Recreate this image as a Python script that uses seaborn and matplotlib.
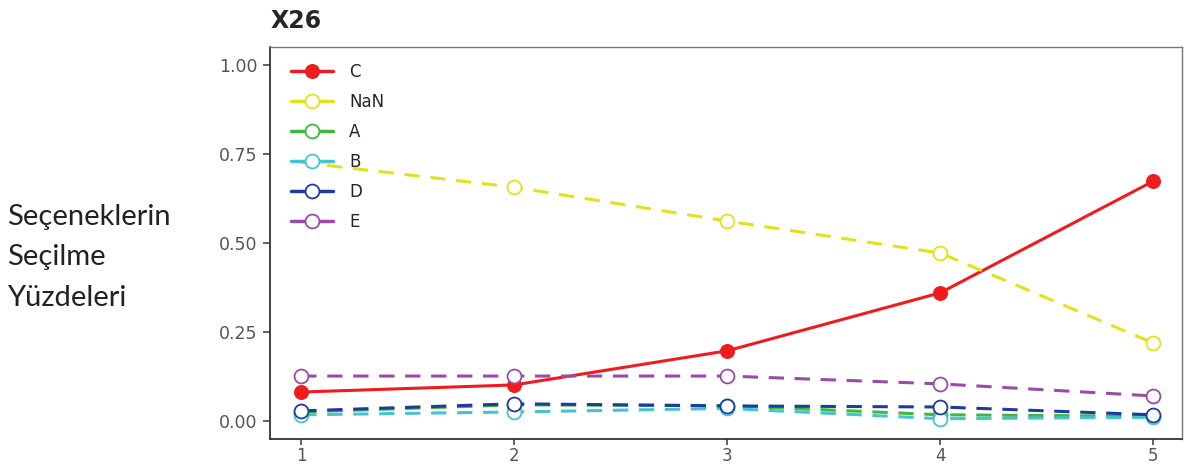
import pandas as pd
import seaborn as sns
import matplotlib.pyplot as plt

# 题目序号 (1-5 组)
groups = [1, 2, 3, 4, 5]

# 各选项的选择比例
c_vals = [0.081, 0.101, 0.197, 0.360, 0.674]
nan_vals = [0.727, 0.657, 0.562, 0.472, 0.219]
a_vals = [0.025, 0.045, 0.043, 0.017, 0.013]
b_vals = [0.017, 0.025, 0.035, 0.006, 0.010]
d_vals = [0.028, 0.048, 0.042, 0.039, 0.017]
e_vals = [0.126, 0.126, 0.126, 0.104, 0.070]

options = ["C", "NaN", "A", "B", "D", "E"]
series = [c_vals, nan_vals, a_vals, b_vals, d_vals, e_vals]
colors = ["#ee1c1c", "#e6e01a", "#3fb83f", "#45c3cf", "#1f3c9c", "#9b4aa8"]

rows = []
for opt, vals in zip(options, series):
    for g, v in zip(groups, vals):
        rows.append({"grup": g, "oran": v, "secenek": opt})
df = pd.DataFrame(rows)

sns.set_style("ticks")
plt.rcParams['font.family'] = ['DejaVu Sans']

fig = plt.figure(figsize=(11.85, 4.67), dpi=100)
ax = fig.add_axes([0.228, 0.060, 0.7696, 0.839])

for opt, col in zip(options, colors):
    sub = df[df["secenek"] == opt]
    if opt == "C":
        sns.lineplot(data=sub, x="grup", y="oran", ax=ax, color=col, label=opt,
                     marker="o", markersize=10, linewidth=2.2,
                     markerfacecolor=col, markeredgecolor=col)
    else:
        # 第一组的 NaN 点被图例遮挡，不画标记
        every = [1, 2, 3, 4] if opt == "NaN" else None
        sns.lineplot(data=sub, x="grup", y="oran", ax=ax, color=col, label=opt,
                     marker="o", markersize=10, linewidth=2.2, dashes=(5, 3.5),
                     markerfacecolor="white", markeredgecolor=col,
                     markeredgewidth=1.3, markevery=every)

ax.set_xlim(0.854, 5.136)
ax.set_ylim(-0.051, 1.051)
ax.set_xticks(groups)
ax.set_yticks([0.0, 0.25, 0.5, 0.75, 1.0])
ax.set_yticklabels(["0.00", "0.25", "0.50", "0.75", "1.00"])
ax.tick_params(labelsize=12.5, colors="#555555", length=5, width=1.3, pad=4)
ax.tick_params(axis="x", labelsize=12, length=4, pad=1.5)
ax.set_xlabel("")
ax.set_ylabel("")
for side in ["left", "bottom"]:
    ax.spines[side].set_color("#333333")
    ax.spines[side].set_linewidth(1.3)
for side in ["top", "right"]:
    ax.spines[side].set_color("#777777")
    ax.spines[side].set_linewidth(1.0)

leg = ax.legend(loc="upper left", frameon=False,
                fontsize=12, handlelength=2.5, labelspacing=0.72,
                handletextpad=1.0, borderaxespad=0.55,
                bbox_to_anchor=(0.0055, 1.0))
for line in leg.get_lines():
    line.set_linestyle("-")
    line.set_linewidth(2.5)

fig.text(0.228, 0.955, "X26", fontsize=17, fontweight="bold", ha="left", va="center")
fig.text(0.006, 0.449, "Seçeneklerin\nSeçilme\nYüzdeleri", fontsize=21,
         family=["Lato", "DejaVu Sans"], ha="left", va="center",
         linespacing=1.7, color="#222222")

fig.savefig("out.png", dpi=100)
